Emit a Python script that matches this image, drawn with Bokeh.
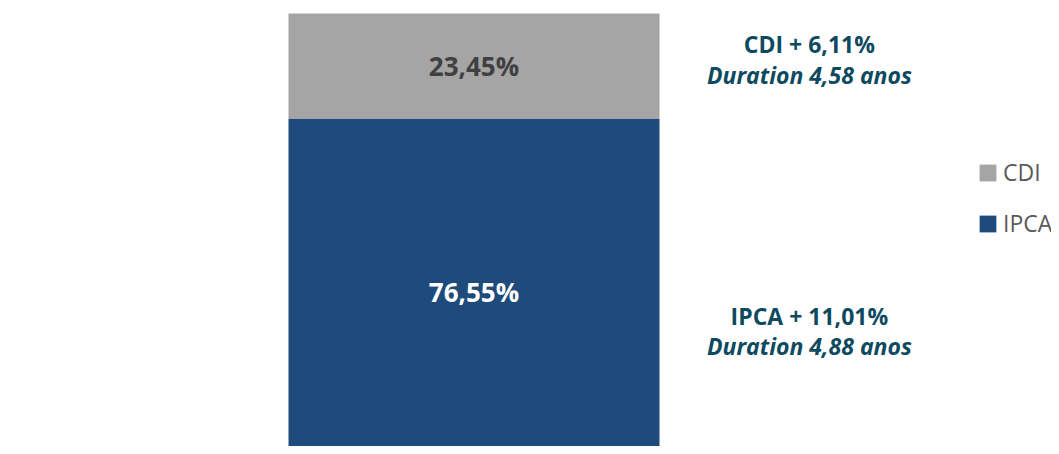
from bokeh.plotting import figure
from bokeh.models import Range1d, ColumnDataSource, Legend, LegendItem
from bokeh.core.properties import value
from bokeh.embed import file_html
from bokeh.resources import INLINE

# ---- data ----
series = ["IPCA", "CDI"]
shares = [76.55, 23.45]
share_labels = ["76,55%", "23,45%"]
spreads = ["IPCA + 11,01%", "CDI + 6,11%"]
durations = ["Duration 4,88 anos", "Duration 4,58 anos"]
bar_colors = ["#1F4A7C", "#A5A5A5"]
label_colors = ["#FFFFFF", "#404040"]

bottoms, tops, mids = [], [], []
acc = 0.0
for v in shares:
    bottoms.append(acc)
    tops.append(acc + v)
    mids.append(acc + v / 2)
    acc += v

W, H = 1051, 446
p = figure(width=W, height=H, output_backend="svg", toolbar_location=None,
           x_range=Range1d(-1.2763, 1.5566), y_range=Range1d(3.30, 102.90),
           min_border=0, outline_line_color=None)
p.axis.visible = False
p.grid.visible = False
p.background_fill_color = "white"

renderers = []
for i, s in enumerate(series):
    r = p.vbar(x=[0], bottom=[bottoms[i]], top=[tops[i]], width=1.0,
               fill_color=bar_colors[i], line_color=None)
    renderers.append(r)

src = ColumnDataSource(dict(x=[0] * len(series), y=mids, t=share_labels, c=label_colors,
                            ax=[0.904] * len(series), sp=spreads, du=durations,
                            o1=[2, 0], o2=[26.5, -21.5], o3=[56, 9.5]))
p.text(x="x", y="y", text="t", source=src, text_color="c",
       text_font=value("Open Sans"), text_font_style="bold", text_font_size="26px",
       text_align="center", text_baseline="middle", y_offset="o1")
p.text(x="ax", y="y", text="sp", source=src, text_color="#0E4A5F",
       text_font=value("Open Sans"), text_font_style="bold", text_font_size="23px",
       text_align="center", text_baseline="middle", y_offset="o2")
p.text(x="ax", y="y", text="du", source=src, text_color="#0E4A5F",
       text_font=value("Open Sans"), text_font_style="bold italic", text_font_size="23px",
       text_align="center", text_baseline="middle", y_offset="o3")

legend = Legend(items=[LegendItem(label=series[1], renderers=[renderers[1]]),
                       LegendItem(label=series[0], renderers=[renderers[0]])],
                location=(977, 207), orientation="vertical",
                glyph_width=21, glyph_height=21, label_standoff=5,
                label_text_font="Open Sans", label_text_font_size="23px",
                label_text_color="#595959", spacing=19, padding=0, margin=0,
                border_line_color=None, background_fill_alpha=0)
p.add_layout(legend)

open("out.html", "w").write(file_html(p, INLINE))
